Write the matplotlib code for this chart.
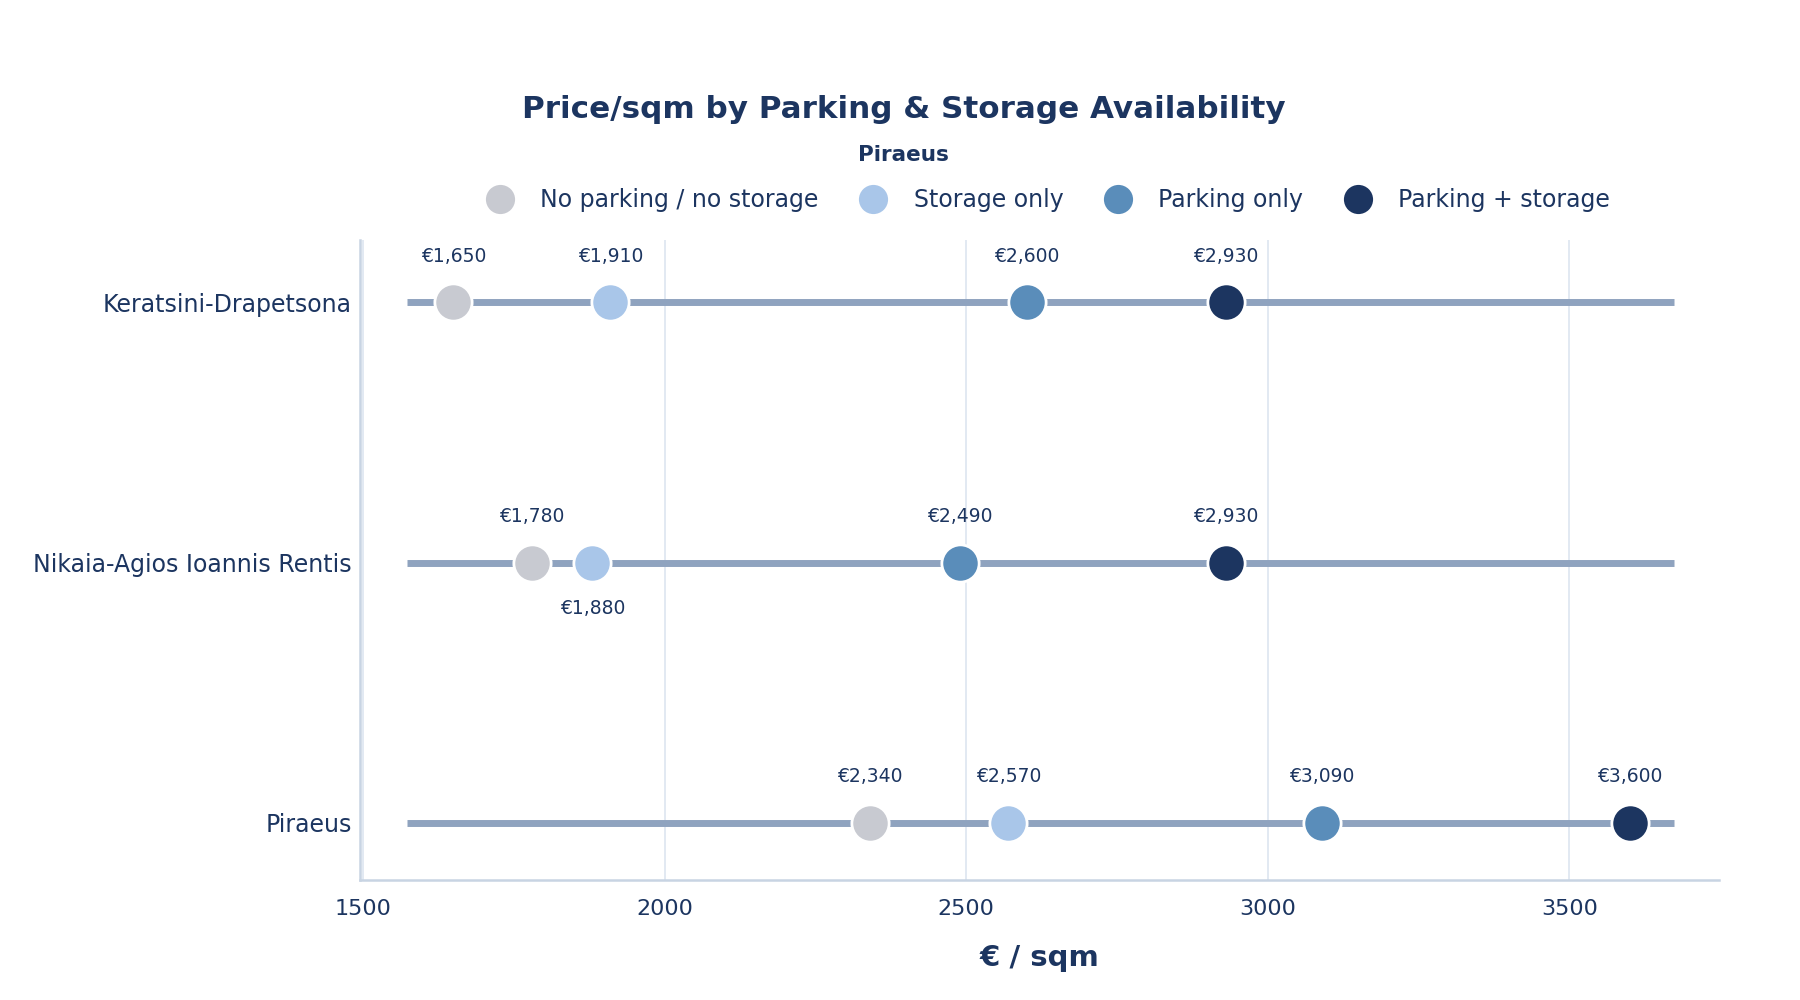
import numpy as np
import matplotlib
matplotlib.use("Agg")
import matplotlib.pyplot as plt
from matplotlib.lines import Line2D

# data
areas = ["Piraeus", "Nikaia-Agios Ioannis Rentis", "Keratsini-Drapetsona"]
groups = ["No parking / no storage", "Storage only", "Parking only", "Parking + storage"]
no_parking_no_storage = [2340, 1780, 1650]
storage_only = [2570, 1880, 1910]
parking_only = [3090, 2490, 2600]
parking_storage = [3600, 2930, 2930]

colors = ["#c8cad1", "#a9c6e9", "#5a8dba", "#1c3560"]
navy = "#1c3560"
# label above (+1) or below (-1) the marker, per area row
label_side = {
    "Storage only": [1, -1, 1],
}

series = [no_parking_no_storage, storage_only, parking_only, parking_storage]

fig = plt.figure(figsize=(18, 10), dpi=100)
ax = fig.add_axes([0.2, 0.12, 0.755, 0.64])

ypos = np.arange(len(areas))
all_vals = np.concatenate([np.array(s) for s in series])
line_lo = all_vals.min() * 0.953
line_hi = all_vals.max() * 1.0205

for y in ypos:
    ax.plot([line_lo, line_hi], [y, y], color="#8fa3bf", lw=5, zorder=2,
            solid_capstyle="butt")

for g, vals, c in zip(groups, series, colors):
    ax.scatter(vals, ypos, s=720, color=c, edgecolor="white", linewidth=2,
               zorder=3)
    sides = label_side.get(g, [1] * len(areas))
    for v, y, sd in zip(vals, ypos, sides):
        ax.annotate(f"€{v:,}", (v, y), xytext=(0, 33 * sd),
                    textcoords="offset points", ha="center", va="center",
                    fontsize=13.5, color=navy, zorder=4)

ax.set_xlim(1495, 3748)
ax.set_ylim(-0.22, 2.24)
ax.set_xticks([1500, 2000, 2500, 3000, 3500])
ax.set_yticks(ypos)
ax.set_yticklabels(areas)
ax.grid(axis="x", color="#dde5f0", lw=1.2, zorder=0)
ax.set_axisbelow(True)
for side in ["top", "right"]:
    ax.spines[side].set_visible(False)
for side in ["left", "bottom"]:
    ax.spines[side].set_color("#c8d4e3")
    ax.spines[side].set_linewidth(1.8)
ax.tick_params(axis="both", length=0, labelcolor=navy)
ax.tick_params(axis="x", pad=14, labelsize=16)
ax.tick_params(axis="y", pad=6, labelsize=17)

ax.set_xlabel("€ / sqm", fontsize=21, fontweight="bold", color=navy,
              labelpad=18)

fig.text(0.502, 0.89, "Price/sqm by Parking & Storage Availability",
         ha="center", va="center", fontsize=22.3, fontweight="bold",
         color=navy)
fig.text(0.502, 0.845, "Piraeus", ha="center", va="center", fontsize=15.5,
         fontweight="bold", color=navy)

handles = [Line2D([], [], marker="o", linestyle="", markersize=22.5,
                  markerfacecolor=c, markeredgecolor="white", markeredgewidth=1.5)
           for c in colors]
leg = fig.legend(handles, groups, loc="center", bbox_to_anchor=(0.5815, 0.8),
                 ncol=4, frameon=False, fontsize=17,
                 handlelength=1.4, handletextpad=1.02, columnspacing=1.6,
                 labelcolor=navy)

fig.savefig("out.png", dpi=100, facecolor="white")
